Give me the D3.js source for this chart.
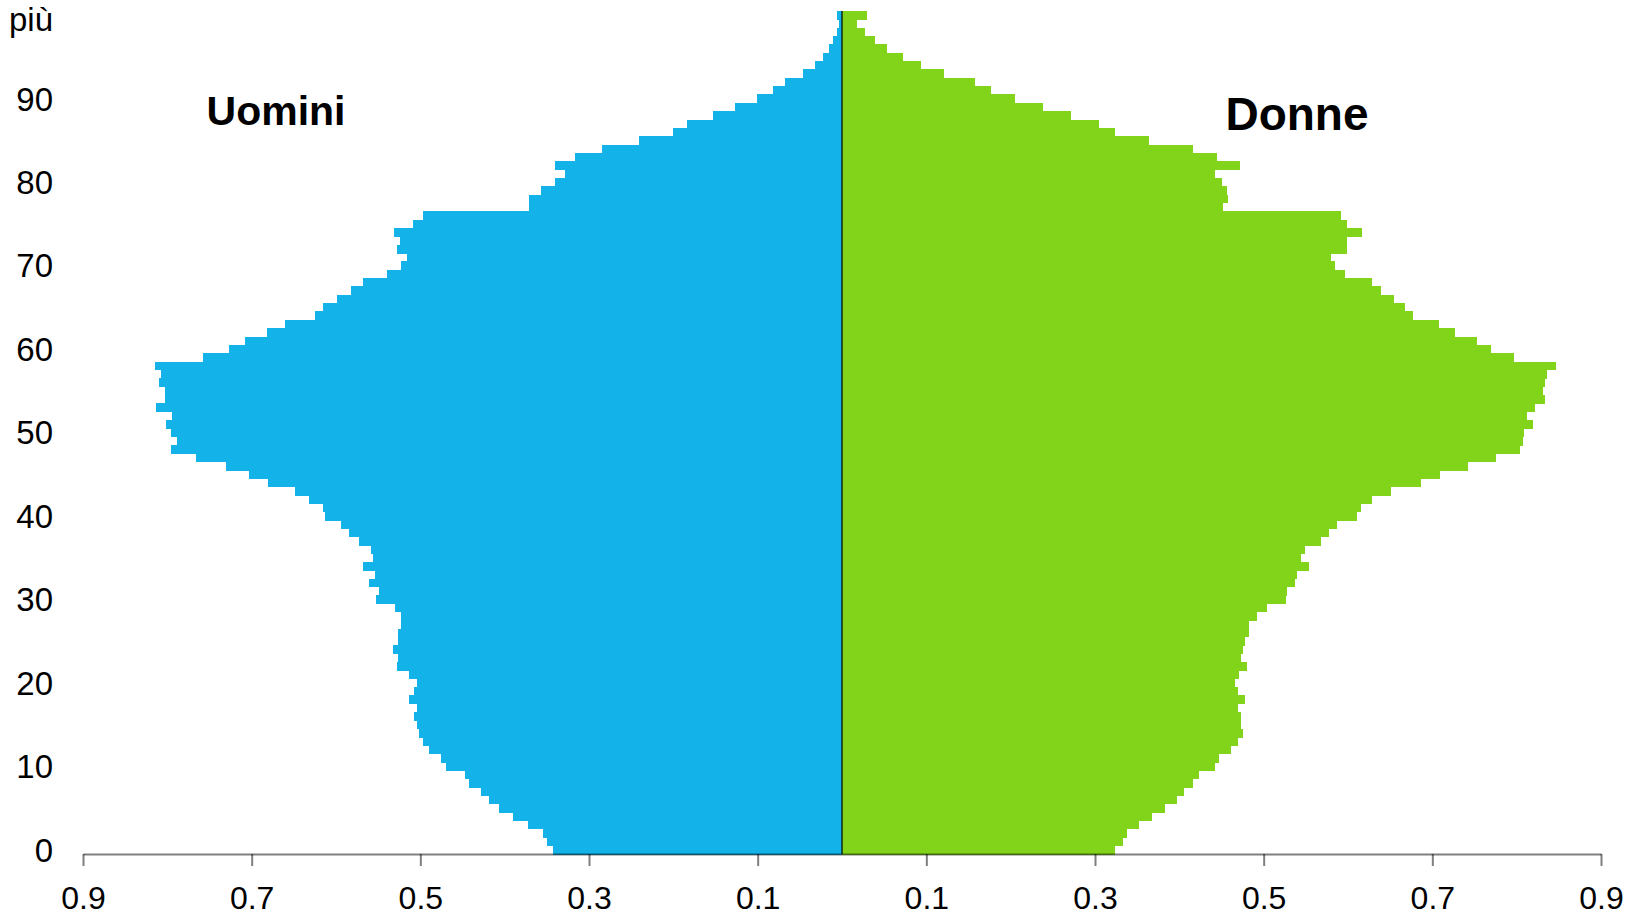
<!DOCTYPE html>
<html>
<head>
<meta charset="utf-8">
<script src="https://cdnjs.cloudflare.com/ajax/libs/d3/7.8.5/d3.min.js"></script>
<style>
  html, body { margin: 0; padding: 0; background: #fff; }
  svg { display: block; font-family: "Liberation Sans", Arial, sans-serif; }
</style>
</head>
<body>
<div id="chart"></div>
<script>
'use strict';

// ages 0 .. 100 (the last class is "100 e più")
var ages = d3.range(0, 101);

// percent of total population, one value per age
var men = [
  0.343, 0.350, 0.355, 0.372, 0.390, 0.407, 0.419, 0.428, 0.442, 0.447,
  0.469, 0.476, 0.490, 0.497, 0.502, 0.504, 0.507, 0.504, 0.514, 0.507,
  0.504, 0.514, 0.528, 0.526, 0.533, 0.526, 0.526, 0.523, 0.523, 0.530,
  0.552, 0.549, 0.561, 0.554, 0.568, 0.556, 0.559, 0.573, 0.585, 0.594,
  0.613, 0.616, 0.632, 0.649, 0.681, 0.703, 0.731, 0.766, 0.796, 0.789,
  0.796, 0.801, 0.794, 0.813, 0.803, 0.803, 0.810, 0.808, 0.815, 0.758,
  0.727, 0.708, 0.682, 0.661, 0.625, 0.616, 0.599, 0.582, 0.568, 0.540,
  0.523, 0.516, 0.528, 0.524, 0.531, 0.509, 0.497, 0.371, 0.371, 0.357,
  0.340, 0.329, 0.340, 0.317, 0.284, 0.241, 0.200, 0.184, 0.153, 0.127,
  0.101, 0.082, 0.068, 0.046, 0.032, 0.023, 0.015, 0.011, 0.006, 0.004,
  0.006
];

var women = [
  0.324, 0.333, 0.338, 0.352, 0.367, 0.383, 0.397, 0.405, 0.416, 0.423,
  0.442, 0.447, 0.461, 0.469, 0.476, 0.473, 0.473, 0.469, 0.478, 0.469,
  0.466, 0.471, 0.480, 0.473, 0.476, 0.478, 0.483, 0.483, 0.492, 0.504,
  0.526, 0.528, 0.537, 0.540, 0.554, 0.544, 0.549, 0.568, 0.578, 0.587,
  0.611, 0.616, 0.628, 0.651, 0.687, 0.709, 0.742, 0.775, 0.804, 0.807,
  0.809, 0.819, 0.812, 0.822, 0.834, 0.831, 0.834, 0.836, 0.847, 0.797,
  0.770, 0.753, 0.727, 0.708, 0.677, 0.668, 0.654, 0.639, 0.628, 0.597,
  0.585, 0.580, 0.599, 0.599, 0.617, 0.599, 0.592, 0.452, 0.458, 0.456,
  0.450, 0.442, 0.472, 0.445, 0.416, 0.364, 0.324, 0.305, 0.272, 0.238,
  0.205, 0.177, 0.158, 0.121, 0.094, 0.072, 0.053, 0.039, 0.027, 0.018,
  0.030
];

// axis ticks, both sides (shown without sign)
var xTicks = [-0.9, -0.7, -0.5, -0.3, -0.1, 0.1, 0.3, 0.5, 0.7, 0.9];
var yTicks = [0, 10, 20, 30, 40, 50, 60, 70, 80, 90, 100];
var yTickLabels = ['0', '10', '20', '30', '40', '50', '60', '70', '80', '90', 'più'];

var w = 1646
  , h = 916
  , plotLeft = 83
  , plotRight = 1601
  , plotTop = 11
  , plotBottom = 854
  , blue = '#13b3e9'
  , green = '#82d41a';

var svg = d3.select('#chart')
  .append('svg')
    .attr('width', w)
    .attr('height', h);

var x = d3.scaleLinear()
  .domain([-0.9, 0.9])
  .range([plotLeft, plotRight]);

// age classes stacked bottom (0) to top (100)
var y = d3.scaleBand()
  .domain(ages.slice().reverse())
  .range([plotTop, plotBottom])
  .padding(0);

var bars = svg.append('g')
  .attr('shape-rendering', 'crispEdges');

bars.selectAll('rect.men')
    .data(ages)
  .enter().append('rect')
    .attr('class', 'men')
    .attr('x', function (d) { return x(-men[d]); })
    .attr('y', function (d) { return y(d); })
    .attr('width', function (d) { return x(0) - x(-men[d]); })
    .attr('height', y.bandwidth() + 0.5)
    .style('fill', blue);

bars.selectAll('rect.women')
    .data(ages)
  .enter().append('rect')
    .attr('class', 'women')
    .attr('x', x(0))
    .attr('y', function (d) { return y(d); })
    .attr('width', function (d) { return x(women[d]) - x(0); })
    .attr('height', y.bandwidth() + 0.5)
    .style('fill', green);

// vertical line between the two halves
svg.append('line')
  .attr('x1', x(0))
  .attr('x2', x(0))
  .attr('y1', y(100))
  .attr('y2', plotBottom)
  .style('stroke', '#000')
  .style('stroke-opacity', 0.6)
  .style('stroke-width', 2);

// bottom axis
var xAxis = d3.axisBottom(x)
  .tickValues(xTicks)
  .tickSize(12)
  .tickSizeOuter(0)
  .tickPadding(20)
  .tickFormat(function (d) { return d3.format('.1f')(Math.abs(d)); });

var gx = svg.append('g')
  .attr('transform', 'translate(0,' + plotBottom + ')')
  .call(xAxis);

gx.select('.domain')
  .style('stroke', '#000')
  .style('stroke-opacity', 0.5)
  .style('stroke-width', 2);
gx.selectAll('.tick line')
  .style('stroke', '#000')
  .style('stroke-opacity', 0.5)
  .style('stroke-width', 2);
gx.selectAll('.tick text')
  .style('font-family', '"Liberation Sans", Arial, sans-serif')
  .style('font-size', '32px')
  .style('fill', '#000');

// age labels on the left, centred on their class
// (the top one is pushed down a little so it stays inside the page)
svg.append('g')
  .selectAll('text')
    .data(yTicks)
  .enter().append('text')
    .attr('x', 53)
    .attr('y', function (d) {
      return Math.max(y(d) + y.bandwidth() / 2, 19);
    })
    .attr('dy', '0.36em')
    .style('text-anchor', 'end')
    .style('font-size', '33px')
    .style('fill', '#000')
    .text(function (d, i) { return yTickLabels[i]; });

// titles
svg.append('text')
  .attr('x', 276)
  .attr('y', 110)
  .attr('dy', '0.36em')
  .style('text-anchor', 'middle')
  .style('font-weight', 'bold')
  .style('font-size', '41px')
  .text('Uomini');

svg.append('text')
  .attr('x', 1297)
  .attr('y', 113)
  .attr('dy', '0.36em')
  .style('text-anchor', 'middle')
  .style('font-weight', 'bold')
  .style('font-size', '46px')
  .text('Donne');
</script>
</body>
</html>
